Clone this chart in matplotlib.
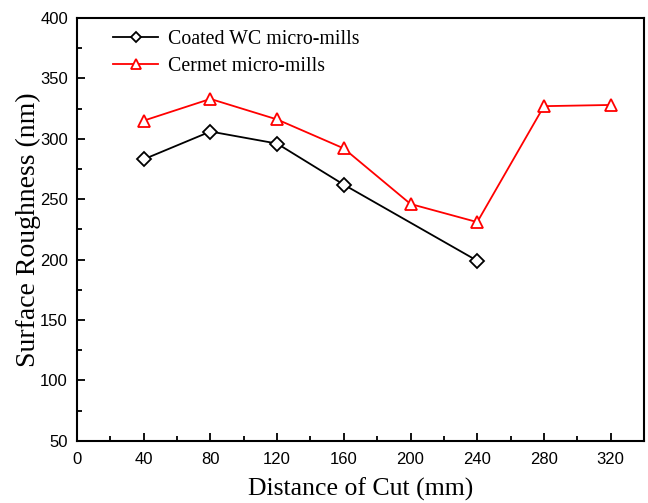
import matplotlib
matplotlib.use("Agg")
import matplotlib.pyplot as plt
from matplotlib.ticker import MultipleLocator

# distance of cut (mm)
dist_wc = [40, 80, 120, 160, 240]
rough_wc = [283, 306, 296, 262, 199]

dist_cermet = [40, 80, 120, 160, 200, 240, 280, 320]
rough_cermet = [315, 333, 316, 292, 246, 231, 327, 328]

fig = plt.figure(figsize=(6.48, 5.03), dpi=100)
ax = fig.add_axes([77/648, 62.3/503, 567/648, 422.7/503])

ax.plot(dist_wc, rough_wc, color="black", lw=1.3, marker="D", ms=7,
        mfc="white", mec="black", mew=1.3, label="Coated WC micro-mills")
ax.plot(dist_cermet, rough_cermet, color="red", lw=1.3, marker="^", ms=9,
        mfc="white", mec="red", mew=1.3, label="Cermet micro-mills")

ax.set_xlim(0, 340)
ax.set_ylim(50, 400)
ax.xaxis.set_major_locator(MultipleLocator(40))
ax.xaxis.set_minor_locator(MultipleLocator(20))
ax.yaxis.set_major_locator(MultipleLocator(50))
ax.yaxis.set_minor_locator(MultipleLocator(25))
ax.tick_params(which="both", direction="in", top=False, right=False,
               labelsize=12, width=1.3)
ax.tick_params(which="major", length=6)
ax.tick_params(which="minor", length=3.5)
ax.tick_params(axis="x", pad=8)
ax.tick_params(axis="y", pad=6.5)
for lab in ax.get_xticklabels() + ax.get_yticklabels():
    lab.set_family("Liberation Sans")
for s in ax.spines.values():
    s.set_linewidth(1.5)

ax.set_xlabel("Distance of Cut (mm)", family="Liberation Serif", fontsize=18.5,
              labelpad=8)
ax.set_ylabel("Surface Roughness (nm)", family="Liberation Serif", fontsize=20,
              labelpad=-1)

ax.legend(loc="upper left", bbox_to_anchor=(0.063, 0.972), frameon=False,
          borderaxespad=0, borderpad=0, markerscale=0.8,
          prop={"family": "Liberation Serif", "size": 14.3}, handlelength=2.3,
          handletextpad=0.5, labelspacing=0.42)

fig.savefig("out.png", dpi=100)
